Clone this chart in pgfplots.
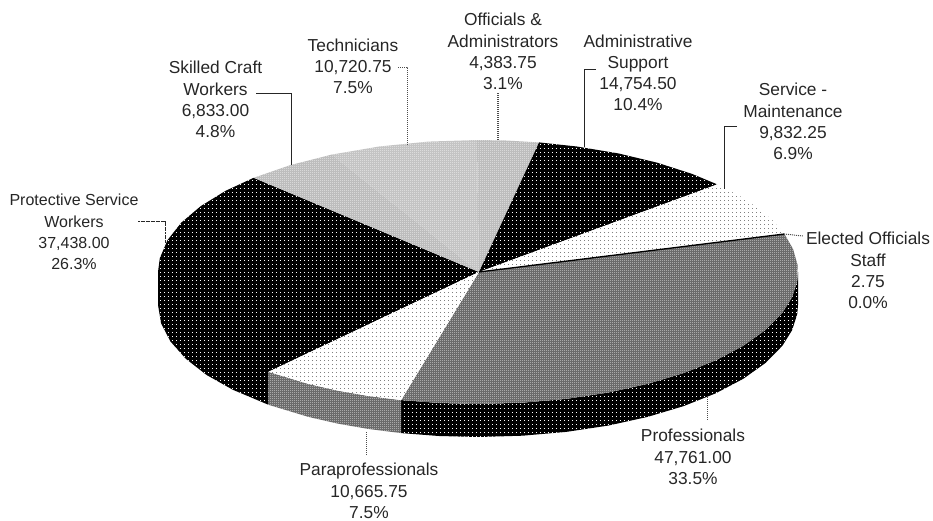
\documentclass[border=0pt]{standalone}
\usepackage{fontspec}
\setmainfont{Liberation Sans}
\usepackage{pgfplots}
\pgfplotsset{compat=1.18}
\usetikzlibrary{patterns}
\pgfdeclarepatternformonly{dotA}{\pgfpointorigin}{\pgfqpoint{3pt}{3pt}}{\pgfqpoint{3pt}{3pt}}{\pgfpathrectangle{\pgfpointorigin}{\pgfqpoint{.75pt}{.75pt}}\pgfusepath{fill}}
\pgfdeclarepatternformonly{dotB}{\pgfpointorigin}{\pgfqpoint{1.5pt}{1.5pt}}{\pgfqpoint{1.5pt}{1.5pt}}{\pgfpathrectangle{\pgfpointorigin}{\pgfqpoint{.75pt}{.75pt}}\pgfusepath{fill}}
\tikzset{
  blk/.style={fill=black,draw=none,postaction={pattern=dotA,pattern color=white}},
  wht/.style={fill=white,draw=none,postaction={pattern=dotA,pattern color=black!50}},
  lgt/.style={fill=black!23,draw=none,postaction={pattern=dotB,pattern color=white}},
  lgt2/.style={fill=black!26,draw=none,postaction={pattern=dotB,pattern color=white}},
  mid/.style={fill=black!58,draw=none,postaction={pattern=dotB,pattern color=white}},
  lead/.style={black!85,line width=.75pt,no markers},
  leadd/.style={black!70,line width=.75pt,dash pattern=on .75pt off .75pt,no markers},
  lab/.style={align=center,inner sep=0pt,text=black!85,font=\fontsize{13}{15.9}\selectfont},
}
\begin{document}
\begin{tikzpicture}
\begin{axis}[hide axis,scale only axis,width=699.75pt,height=390.75pt,
  xmin=0,xmax=933,ymin=0,ymax=521,y dir=reverse,clip=false]
\path (axis cs:0,0) rectangle (axis cs:933,521);
% Protective Service Workers (top + wall)
\addplot[blk] coordinates {(479,272)(253.7,177.8)(225.8,190.7)(200.9,206)(181.3,222.6)(167.5,240.1)(159.8,258.2)(158,272)(158,305)(161.1,323.4)(170.4,341.4)(185.7,358.7)(206.6,375)(232.9,389.8)(268.5,404.8)(268.5,371.8)(479,272)};
% Skilled Craft Workers
\addplot[lgt2] coordinates {(479,272)(253.7,177.8)(290,165.2)(331.7,154.6)(479,272)};
% Technicians
\addplot[lgt] coordinates {(479,272)(331.7,154.6)(379.1,146.5)(428,141.6)(476.9,140)(479,272)};
% Officials & Administrators
\addplot[lgt2] coordinates {(479,272)(476.9,140)(505.9,140.5)(539.1,142.4)(479,272)};
% Administrative Support
\addplot[blk] coordinates {(479,272)(539.1,142.4)(576.9,146.5)(618.3,153.4)(656.9,162.6)(692.1,173.9)(717.3,184.4)(479,272)};
% Service - Maintenance
\addplot[wht] coordinates {(479,272)(717.3,184.4)(740.1,196.3)(757.9,208)(772.6,220.4)(784.3,233.9)(479,272)};
% Professionals wall
\addplot[blk] coordinates {(798,272)(797.2,281.2)(792.1,297.2)(782.4,312.8)(765.6,329.9)(743.3,345.8)(715.8,360.3)(683.7,373.1)(647.6,383.9)(608.1,392.6)(566.2,398.9)(522.5,402.7)(478,404)(439,403)(401.1,400.1)(401.1,433.1)(439,436)(478,437)(522.5,435.7)(566.2,431.9)(608.1,425.6)(647.6,416.9)(683.7,406.1)(715.8,393.3)(743.3,378.8)(765.6,362.9)(782.4,345.8)(792.1,330.2)(797.2,314.2)(798,305)(798,272)};
% Professionals top
\addplot[mid] coordinates {(479,272)(784.5,234.1)(793.1,249.1)(797.6,265.1)(797.2,281.2)(792.1,297.2)(782.4,312.8)(765.6,329.9)(743.3,345.8)(715.8,360.3)(683.7,373.1)(647.6,383.9)(608.1,392.6)(566.2,398.9)(522.5,402.7)(478,404)(439,403)(401.1,400.1)(479,272)};
% Paraprofessionals wall
\addplot[mid] coordinates {(268.5,371.8)(308.4,383.9)(337.7,390.6)(368.6,396)(401.1,400.1)(401.1,433.1)(368.6,429)(337.7,423.6)(308.4,416.9)(268.5,404.8)(268.5,371.8)};
% Paraprofessionals top
\addplot[wht] coordinates {(479,272)(401.1,400.1)(368.6,396)(337.7,390.6)(308.4,383.9)(268.5,371.8)(479,272)};
% Elected Officials Staff (hairline slice)
\addplot[black,line width=1pt,no markers] coordinates {(479,272)(784.4,234)};
% Leaders
\addplot[lead] coordinates {(256,93)(291,93)(291,165)};
\addplot[leadd] coordinates {(398,67)(407,67)(407,146)};
\addplot[leadd,line width=1pt] coordinates {(498,93)(498,141)};
\addplot[lead] coordinates {(596,69)(584,69)(584,147)};
\addplot[lead] coordinates {(737,126)(724,126)(724,189)};
\addplot[leadd] coordinates {(784,234)(803,236)};
\addplot[leadd] coordinates {(707,397)(707,420)};
\addplot[leadd] coordinates {(366,432)(366,455)};
\addplot[lead,dash pattern=on 1.5pt off .4pt] coordinates {(138,221)(165,221)(165,243)};
% Labels
\node[lab] at (axis cs:215.5,99.5) {Skilled Craft\\Workers\\6,833.00\\4.8\%};
\node[lab] at (axis cs:353,66.5) {Technicians\\10,720.75\\7.5\%};
\node[lab] at (axis cs:503,51.5) {Officials \&\\Administrators\\4,383.75\\3.1\%};
\node[lab] at (axis cs:638,73) {Administrative\\Support\\14,754.50\\10.4\%};
\node[lab] at (axis cs:793,121.5) {Service -\\Maintenance\\9,832.25\\6.9\%};
\node[lab] at (axis cs:868,270.5) {Elected Officials\\Staff\\2.75\\0.0\%};
\node[lab] at (axis cs:693,457) {Professionals\\47,761.00\\33.5\%};
\node[lab] at (axis cs:369,491) {Paraprofessionals\\10,665.75\\7.5\%};
\node[lab,font=\fontsize{12}{15.9}\selectfont] at (axis cs:74,232) {Protective Service\\Workers\\37,438.00\\26.3\%};
\end{axis}
\end{tikzpicture}
\end{document}
